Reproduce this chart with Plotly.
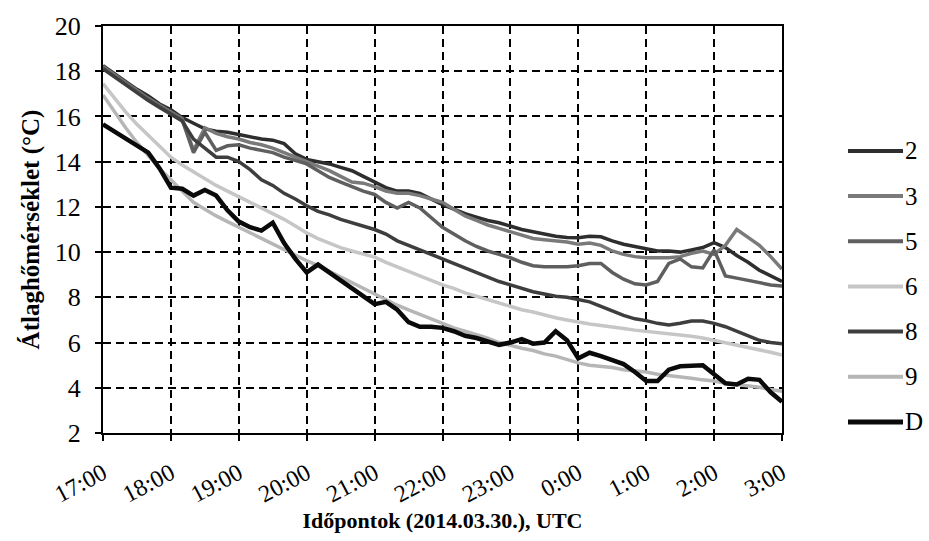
import pandas as pd
import plotly.graph_objects as go

# time axis: 10-minute steps, 2014-03-30 17:00 -> 2014-03-31 03:00
times = pd.date_range("2014-03-30 17:00", "2014-03-31 03:00", freq="10min")

s2 = [18.25, 17.9, 17.55, 17.2, 16.9, 16.55,
      16.3, 15.95, 15.7, 15.45, 15.35, 15.3,
      15.2, 15.1, 15.0, 14.95, 14.8, 14.35,
      14.1, 14.0, 13.9, 13.75, 13.6, 13.35,
      13.1, 12.85, 12.7, 12.7, 12.6, 12.35,
      12.1, 11.9, 11.7, 11.55, 11.4, 11.3,
      11.15, 11.0, 10.9, 10.8, 10.7, 10.65,
      10.64, 10.7, 10.68, 10.5, 10.35, 10.25,
      10.15, 10.05, 10.05, 10.0, 10.1, 10.2,
      10.42, 10.2, 9.85, 9.55, 9.2, 8.95,
      8.7]
s3 = [18.2, 17.85, 17.5, 17.15, 16.8, 16.5,
      16.2, 15.9, 14.5, 15.5, 15.25, 15.1,
      15.0, 14.85, 14.75, 14.6, 14.4, 14.2,
      14.0, 13.8, 13.6, 13.35, 13.1, 13.05,
      12.9, 12.7, 12.6, 12.6, 12.5, 12.35,
      12.2, 11.9, 11.6, 11.4, 11.2, 11.05,
      10.9, 10.75, 10.6, 10.55, 10.5, 10.45,
      10.35, 10.4, 10.3, 10.05, 9.9, 9.8,
      9.75, 9.75, 9.75, 9.8, 9.95, 10.05,
      9.9, 10.3, 11.0, 10.65, 10.3, 9.8,
      9.25]
s5 = [18.15, 17.8, 17.45, 17.1, 16.75, 16.45,
      16.15, 15.85, 14.4, 15.3, 14.5, 14.7,
      14.75, 14.6, 14.5, 14.4, 14.2, 14.05,
      13.9, 13.6, 13.3, 13.1, 12.9, 12.7,
      12.55, 12.2, 11.95, 12.2, 11.95, 11.5,
      11.1, 10.8, 10.5, 10.25, 10.05, 9.9,
      9.75, 9.55, 9.4, 9.35, 9.35, 9.35,
      9.4, 9.5, 9.5, 9.1, 8.8, 8.6,
      8.55, 8.7, 9.5, 9.7, 9.35, 9.3,
      10.1, 8.95, 8.85, 8.75, 8.65, 8.55,
      8.5]
s6 = [17.45, 16.8, 16.2, 15.65, 15.15, 14.65,
      14.2, 13.85, 13.55, 13.25, 12.95, 12.7,
      12.45, 12.2, 11.95, 11.7, 11.45, 11.15,
      10.85, 10.6, 10.38, 10.2, 10.05, 9.9,
      9.78, 9.55, 9.35, 9.15, 8.95, 8.75,
      8.55, 8.4, 8.2, 8.05, 7.9, 7.75,
      7.6, 7.45, 7.35, 7.22, 7.1, 7.0,
      6.9, 6.82, 6.75, 6.7, 6.62, 6.55,
      6.5, 6.45, 6.4, 6.35, 6.28, 6.2,
      6.1, 6.0, 5.9, 5.8, 5.68, 5.57,
      5.45]
s8 = [18.1, 17.75, 17.4, 17.05, 16.7, 16.4,
      16.1, 15.8, 15.0, 14.6, 14.2, 14.2,
      14.0, 13.65, 13.2, 12.95, 12.6, 12.35,
      12.05, 11.8, 11.65, 11.45, 11.3, 11.15,
      11.0, 10.8, 10.5, 10.3, 10.1, 9.9,
      9.7, 9.5, 9.3, 9.1, 8.9, 8.7,
      8.55, 8.4, 8.25, 8.15, 8.05, 8.0,
      7.9, 7.8, 7.6, 7.4, 7.2, 7.05,
      6.97, 6.85, 6.78, 6.85, 6.95, 6.95,
      6.85, 6.7, 6.5, 6.3, 6.1, 6.0,
      5.95]
s9 = [16.95, 16.2, 15.5, 14.85, 14.25, 13.7,
      13.2, 12.7, 12.2, 11.9, 11.6, 11.35,
      11.1, 10.85, 10.6, 10.35, 10.1, 9.85,
      9.62, 9.4, 9.15, 8.92, 8.68, 8.42,
      8.18, 7.9, 7.65, 7.45, 7.25, 7.05,
      6.85, 6.65, 6.5, 6.35, 6.2, 6.0,
      5.87, 5.75, 5.65, 5.5, 5.4, 5.25,
      5.1, 5.0, 4.95, 4.9, 4.8, 4.75,
      4.7, 4.6, 4.55, 4.5, 4.42, 4.35,
      4.3, 4.2, 4.15, 4.1, 4.02, 3.92,
      3.85]
sD = [15.65, 15.35, 15.0, 14.7, 14.4, 13.7,
      12.85, 12.8, 12.5, 12.75, 12.5, 11.85,
      11.35, 11.1, 10.95, 11.3, 10.4, 9.7,
      9.1, 9.45, 9.1, 8.7, 8.35, 8.0,
      7.7, 7.8, 7.45, 6.9, 6.7, 6.7,
      6.65, 6.5, 6.3, 6.2, 6.05, 5.9,
      6.0, 6.15, 5.95, 6.0, 6.5, 6.1,
      5.3, 5.55, 5.4, 5.2, 5.05, 4.7,
      4.3, 4.3, 4.8, 4.95, 5.0, 5.0,
      4.6, 4.2, 4.15, 4.4, 4.35, 3.8,
      3.38]

series_names = ["2", "3", "5", "6", "8", "9", "D"]
series_values = [s2, s3, s5, s6, s8, s9, sD]
series_colors = ["#2e2e2e", "#7a7a7a", "#5f5f5f", "#c6c6c6", "#3e3e3e", "#b6b6b6", "#0a0a0a"]
series_widths = [3.5, 3.5, 3.5, 3.5, 3.5, 3.5, 4.5]

FONT = "Liberation Serif"

W, H = 929, 541
ML, MR, MT, MB = 103, 147, 24, 108
PW, PH = W - ML - MR, H - MT - MB


def px_x(px):
    return (px - ML) / PW


def px_y(py):
    return (H - MB - py) / PH


fig = go.Figure()
for name, vals, col, w in zip(series_names, series_values, series_colors, series_widths):
    fig.add_trace(go.Scatter(
        x=times, y=vals, mode="lines", name=name,
        line=dict(color=col, width=w), showlegend=False,
    ))

# legend drawn as key lines + labels (long key lines like the original)
shapes, annots = [], []
for k, (name, col, w) in enumerate(zip(series_names, series_colors, series_widths)):
    yy = px_y(149.5 + k * 45.4)
    shapes.append(dict(type="line", xref="paper", yref="paper",
                       x0=px_x(848), x1=px_x(903), y0=yy, y1=yy,
                       line=dict(color=col, width=w + 0.5)))
    annots.append(dict(xref="paper", yref="paper", x=px_x(903), y=yy,
                       xanchor="left", yanchor="middle", text=name, showarrow=False,
                       font=dict(family=FONT, size=25, color="black")))

fig.update_layout(
    width=W, height=H,
    margin=dict(l=ML, r=MR, t=MT, b=MB),
    paper_bgcolor="white", plot_bgcolor="white",
    font=dict(family=FONT, size=22, color="black"),
    showlegend=False,
    shapes=shapes, annotations=annots,
    xaxis=dict(
        type="date",
        range=[times[0], times[-1]],
        dtick=3600000, tick0=times[0],
        tickformat="%-H:%M", tickangle=-28,
        showline=True, linecolor="black", linewidth=2, mirror=True,
        ticks="outside", ticklen=6, tickwidth=2, tickcolor="black",
        showgrid=True, gridcolor="black", gridwidth=2, griddash="8px,5px",
        zeroline=False,
        tickfont=dict(family=FONT, size=24),
        ticklabelstandoff=9,
        title=dict(text="<b>Időpontok (2014.03.30.), UTC</b>",
                   font=dict(family=FONT, size=22), standoff=6),
    ),
    yaxis=dict(
        range=[2, 20], dtick=2, tick0=2,
        showline=True, linecolor="black", linewidth=2, mirror=True,
        ticks="outside", ticklen=6, tickwidth=2, tickcolor="black",
        showgrid=True, gridcolor="black", gridwidth=2, griddash="8px,5px",
        zeroline=False,
        tickfont=dict(family=FONT, size=26),
        ticklabelstandoff=9,
        title=dict(text="<b>Átlaghőmérséklet (°C)</b>",
                   font=dict(family=FONT, size=25), standoff=8),
    ),
)

fig.write_html("out.html")
